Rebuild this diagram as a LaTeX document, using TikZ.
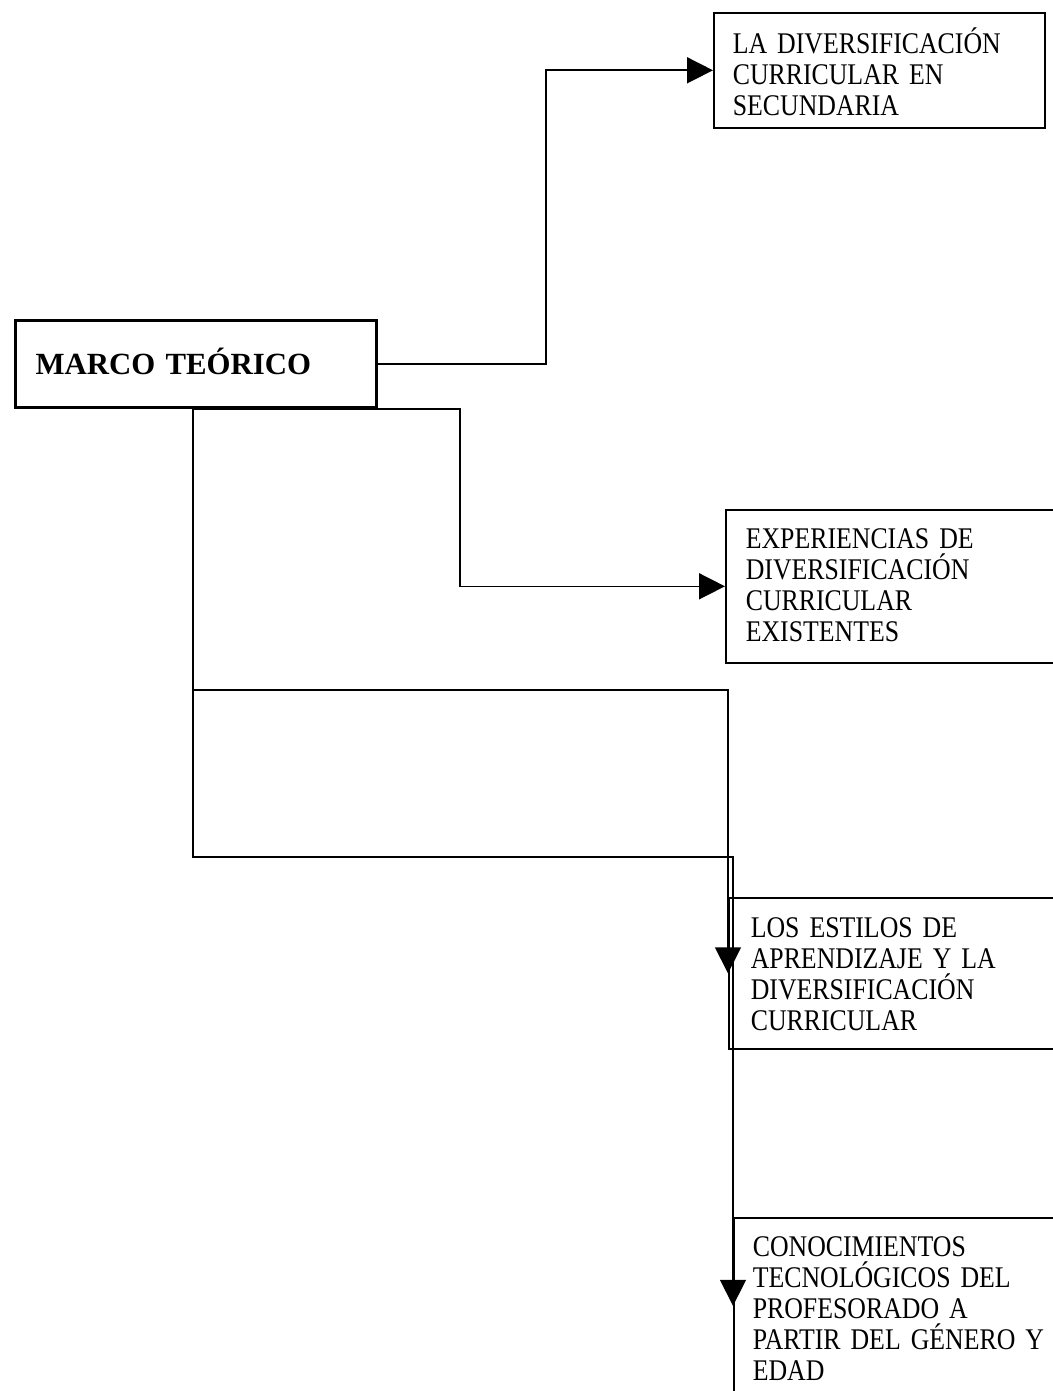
\documentclass[tikz,border=0pt]{standalone}
\usepackage{fontspec}
\setmainfont{Liberation Serif}
\newfontfamily\boxfont[FakeStretch=0.86]{Liberation Serif}
\usetikzlibrary{arrows.meta}
\begin{document}
\begin{tikzpicture}[x=0.5pt,y=-0.5pt,
  conn/.style={line width=0.8pt, line join=miter},
  arr/.style={conn, -{Triangle[length=13pt,width=13pt]}},
  topic/.style={draw, line width=0.8pt, rectangle, anchor=north west,
    inner ysep=0pt, minimum height=0pt, align=left,
    font=\boxfont\fontsize{15pt}{15.5pt}\selectfont},
  titlebox/.style={draw, line width=1.6pt, rectangle, anchor=north west,
    inner ysep=0pt, minimum height=0pt, align=left,
    font=\bfseries\fontsize{15.4pt}{18pt}\selectfont}]
\useasboundingbox (0,0) rectangle (1053,1391);
\clip (0,0) rectangle (1053,1391);

\node[titlebox, minimum width=180.5pt, inner xsep=10pt, text width=160.5pt,
      text height=27pt, text depth=16.5pt] (main) at (14,319) {MARCO TEÓRICO};

\node[topic, minimum width=165.5pt, inner xsep=9.5pt, text width=146.5pt,
      text height=20.5pt, text depth=37pt] (A) at (713,12)
  {LA DIVERSIFICACIÓN\\CURRICULAR EN\\SECUNDARIA};

\node[topic, minimum width=200pt, inner xsep=10pt, text width=180pt,
      text height=19.5pt, text depth=57pt] (B) at (725,509)
  {EXPERIENCIAS DE\\DIVERSIFICACIÓN\\CURRICULAR\\EXISTENTES};

\node[topic, minimum width=200pt, inner xsep=11pt, text width=178pt,
      text height=20pt, text depth=55.5pt] (C) at (728,897)
  {LOS ESTILOS DE\\APRENDIZAJE Y LA\\DIVERSIFICACIÓN\\CURRICULAR};

\node[topic, minimum width=200pt, inner xsep=9.5pt, text width=181pt,
      text height=19.5pt, text depth=68.5pt] (D) at (733,1217)
  {CONOCIMIENTOS\\TECNOLÓGICOS DEL\\PROFESORADO A\\PARTIR DEL GÉNERO Y\\EDAD};

\coordinate (m1) at (193,409);
\coordinate (k1) at (546,0);
\coordinate (k2) at (460,0);

\draw[arr] (main.east) -- (main.east -| k1) -- (k1 |- A.west) -- (A.west);
\draw[arr] (m1) -- (m1 -| k2) -- (k2 |- B.west) -- (B.west);
\draw[arr] (m1) -- (193,690) -- (C.west |- 0,690) -- (C.west);
\draw[arr] (m1) -- (193,857) -- (D.west |- 0,857) -- (D.west);
\end{tikzpicture}
\end{document}
